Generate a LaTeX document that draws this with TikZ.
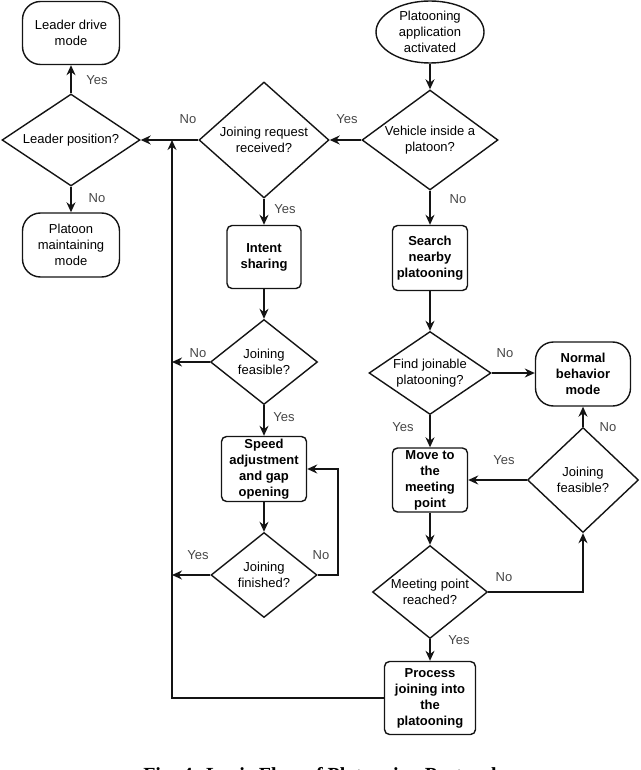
\documentclass[tikz,border=0pt]{standalone}
\usepackage{fontspec}
\setmainfont{Liberation Sans}
\usetikzlibrary{shapes.geometric, arrows.meta, positioning}
\definecolor{lineColor}{RGB}{20, 20, 20}
\definecolor{labelColor}{RGB}{70, 70, 70}
\tikzset{
    flow_font/.style={
        font=\fontsize{13}{16}\selectfont
    },
    flow_term/.style={
        draw=lineColor,
        line width=1.4pt,
        rounded corners=18pt,
        align=center,
        flow_font,
        minimum width=97pt,
        minimum height=63pt,
        inner sep=0pt
    },
    flow_start/.style={
        ellipse,
        draw=lineColor,
        line width=1.4pt,
        align=center,
        flow_font,
        minimum width=108pt,
        minimum height=62pt,
        inner sep=-8pt
    },
    flow_box/.style={
        draw=lineColor,
        line width=1.4pt,
        rounded corners=5pt,
        align=center,
        flow_font,
        font=\bfseries\fontsize{13}{16}\selectfont,
        inner sep=0pt
    },
    flow_dec/.style={
        diamond,
        draw=lineColor,
        line width=1.4pt,
        inner sep=0pt
    },
    flow_txt/.style={
        align=center,
        flow_font
    },
    flow_edge/.style={
        -{Stealth[length=10pt,width=9pt]},
        line width=1.4pt,
        draw=lineColor
    },
    flow_lbl/.style={
        text=labelColor,
        flow_font
    }
}
\begin{document}
\begin{tikzpicture}[x=1pt, y=-1pt]
    \useasboundingbox (0,0) rectangle (640,770);

    % left column
    \node[flow_term] (lead) at (71,33) {Leader drive\\mode};
    \node[flow_dec, minimum width=138pt, minimum height=92pt] (pos) at (71,140) {};
    \node[flow_txt] at (pos) {Leader position?};
    \node[flow_term, minimum height=64pt] (maint) at (71,245) {Platoon\\maintaining\\mode};

    % middle column
    \node[flow_dec, minimum width=130pt, minimum height=116pt] (req) at (264,140) {};
    \node[flow_txt] at (req) {Joining request\\received?};
    \node[flow_box, minimum width=74pt, minimum height=63pt] (intent) at (264,257) {Intent\\sharing};
    \node[flow_dec, minimum width=107pt, minimum height=85pt] (feasA) at (264,362) {};
    \node[flow_txt] at (feasA) {Joining\\feasible?};
    \node[flow_box, minimum width=85pt, minimum height=65pt] (speed) at (264,469) {Speed\\adjustment\\and gap\\opening};
    \node[flow_dec, minimum width=106pt, minimum height=85pt] (fin) at (264,575) {};
    \node[flow_txt] at (fin) {Joining\\finished?};

    % right column
    \node[flow_start] (start) at (430,32) {Platooning\\application\\activated};
    \node[flow_dec, minimum width=136pt, minimum height=100pt] (inside) at (430,140) {};
    \node[flow_txt] at (inside) {Vehicle inside a\\platoon?};
    \node[flow_box, minimum width=75pt, minimum height=65pt] (search) at (430,258) {Search\\nearby\\platooning};
    \node[flow_dec, minimum width=122pt, minimum height=83pt] (find) at (430,373) {};
    \node[flow_txt] at (find) {Find joinable\\platooning?};
    \node[flow_box, minimum width=75pt, minimum height=64pt] (move) at (430,480) {Move to\\the\\meeting\\point};
    \node[flow_dec, minimum width=115pt, minimum height=93pt] (reach) at (430,592) {};
    \node[flow_txt] at (reach) {Meeting point\\reached?};
    \node[flow_box, minimum width=91pt, minimum height=73pt] (proc) at (430,698) {Process\\joining into\\the\\platooning};
    \node[flow_term, minimum width=95pt, minimum height=64pt] (normal) at (583,374) {\textbf{Normal}\\\textbf{behavior}\\\textbf{mode}};
    \node[flow_dec, minimum width=111pt, minimum height=105pt] (feasB) at (583,480) {};
    \node[flow_txt] at (feasB) {Joining\\feasible?};

    % return line and bends
    \coordinate (ret) at (172,140);
    \coordinate (retA) at (172,362);
    \coordinate (retB) at (172,575);
    \coordinate (retC) at (172,698);
    \coordinate (loopA) at (338,575);
    \coordinate (loopB) at (338,469);
    \coordinate (reachR) at (583,592);

    \draw[flow_edge] (pos) -- (lead);
    \draw[flow_edge] (pos) -- (maint);
    \draw[flow_edge] (start) -- (inside);
    \draw[flow_edge] (inside.west) -- (req.east);
    \draw[flow_edge] (req.west) -- (pos.east);
    \draw[flow_edge] (inside) -- (search);
    \draw[flow_edge] (req) -- (intent);
    \draw[flow_edge] (intent) -- (feasA);
    \draw[flow_edge] (feasA.west) -- (retA);
    \draw[flow_edge] (feasA) -- (speed);
    \draw[flow_edge] (speed) -- (fin);
    \draw[flow_edge] (fin.west) -- (retB);
    \draw[flow_edge] (fin.east) -- (loopA) -- (loopB) -- (speed.east);
    \draw[flow_edge] (search) -- (find);
    \draw[flow_edge] (find.east) -- (normal.west |- find.east);
    \draw[flow_edge] (find) -- (move);
    \draw[flow_edge] (feasB.west) -- (move.east);
    \draw[flow_edge] (feasB) -- (normal);
    \draw[flow_edge] (move) -- (reach);
    \draw[flow_edge] (reach.east) -- (reachR) -- (feasB.south);
    \draw[flow_edge] (reach) -- (proc);
    \draw[flow_edge] (proc.west) -- (retC) -- (ret);

    % branch labels
    \node[flow_lbl] (yLead) at (97,80) {Yes};
    \node[flow_lbl] (nLead) at (97,198) {No};
    \node[flow_lbl] (nReq) at (188,119) {No};
    \node[flow_lbl] (yIn) at (347,119) {Yes};
    \node[flow_lbl] (nIn) at (458,199) {No};
    \node[flow_lbl] (yReq) at (285,209) {Yes};
    \node[flow_lbl] (nFeasA) at (198,353) {No};
    \node[flow_lbl] (yFeasA) at (284,417) {Yes};
    \node[flow_lbl] (yFin) at (198,555) {Yes};
    \node[flow_lbl] (nFin) at (321,555) {No};
    \node[flow_lbl] (nFind) at (505,353) {No};
    \node[flow_lbl] (yFind) at (403,427) {Yes};
    \node[flow_lbl] (yFeasB) at (504,460) {Yes};
    \node[flow_lbl] (nFeasB) at (608,427) {No};
    \node[flow_lbl] (nReach) at (504,577) {No};
    \node[flow_lbl] (yReach) at (459,640) {Yes};

    % caption, cut by the page edge
    \node[font=\fontspec{Liberation Serif}\bfseries\fontsize{20}{22}\selectfont] (cap) at (320,777) {Fig. 4: Logic Flow of Platooning Protocol};
\end{tikzpicture}
\end{document}
